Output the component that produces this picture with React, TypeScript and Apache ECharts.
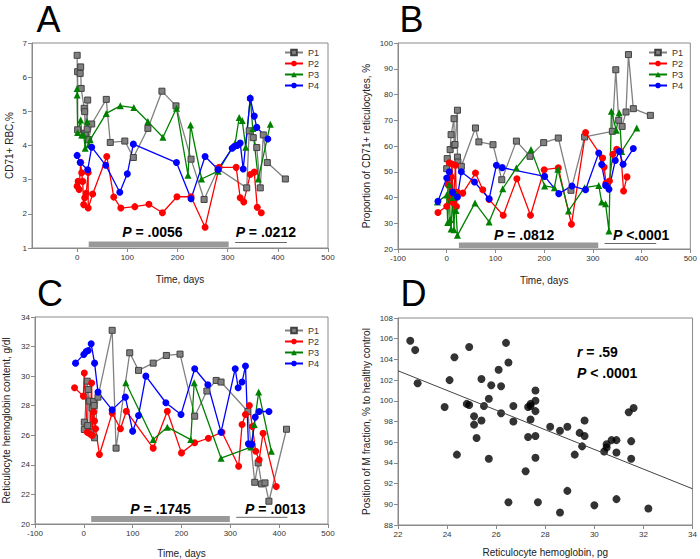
import React, { useEffect, useRef } from "react";
import * as echarts from "echarts";

const FONT = "'Liberation Sans', Arial, sans-serif";

// tick labels
const timeTicksA = [0, 100, 200, 300, 400, 500];
const patients = ["P1", "P2", "P3", "P4"];

// Panel A: CD71+ RBC, %
const aP1 = [[0,6.64],[1,4.46],[1,6.16],[6,6.11],[7,6.30],[8,5.67],[14,5.09],[15,4.99],[16,4.36],[21,5.33],[20,4.48],[23,4.17],[29,4.63],[58,5.35],[66,4.09],[95,4.13],[112,3.65],[141,4.5],[169,5.59],[197,5.16],[227,3.6],[253,2.42],[281,3.32],[338,2.76],[343,4.43],[351,4.23],[358,3.94],[365,2.76],[371,4.31],[379,3.5],[415,3.02]];
const aP2 = [[0,2.81],[2,2.95],[4,2.71],[7,3.51],[9,3.2],[11,2.95],[13,2.27],[15,2.47],[18,2.6],[22,3.21],[22,2.17],[31,2.58],[59,3.68],[73,2.49],[87,2.17],[115,2.21],[143,2.28],[170,2.03],[199,2.5],[227,2.5],[255,1.61],[283,3.36],[317,3.36],[325,2.47],[332,2.35],[345,3.15],[353,3.22],[359,2.19],[367,2.03]];
const aP3 = [[0,5.67],[0,5.48],[1,4.38],[7,4.75],[9,4.31],[13,4.31],[16,3.92],[20,4.7],[23,4.02],[26,4.17],[58,4.94],[86,5.16],[113,5.11],[141,4.7],[171,4.24],[198,5.09],[221,3.13],[226,4.6],[248,3.02],[281,3.25],[315,4.07],[323,4.82],[329,4.73],[336,3.95],[345,5.41],[350,4.5],[361,3.02],[385,4.62]];
const aP4 = [[0,3.71],[6,3.5],[21,3.29],[29,3.95],[57,3.42],[85,2.63],[100,3.17],[112,4.04],[198,3.5],[227,2.44],[255,3.68],[281,3.3],[309,3.92],[313,3.97],[319,4.0],[325,4.07],[331,3.31],[345,5.38],[353,4.86],[358,4.53],[380,4.19]];

// Panel B: proportion of CD71+ reticulocytes, %
const bP1 = [[0,51.2],[1,55.1],[4,45.4],[7,58.6],[9,64.4],[15,70.6],[15,60.3],[17,60.6],[22,73.9],[22,55.7],[23,53.8],[30,52.1],[59,67],[66,61.6],[95,60.5],[113,46.9],[143,61.9],[171,56],[199,61.3],[229,63.1],[255,42.8],[283,63.5],[340,65.7],[347,89.6],[353,70],[360,67.6],[368,73.2],[373,95.5],[383,74.5],[418,71.9]];
const bP2 = [[-18,34.2],[0,36.6],[3,45],[5,53.5],[7,40],[9,48],[11,53],[13,38],[15,42],[18,52.5],[20,36.5],[22,42],[33,41.7],[59,49.5],[74,43],[87,39.2],[116,33.1],[144,47.3],[172,33.1],[200,50.8],[229,51.5],[256,29.6],[285,65.2],[320,55.3],[323,51.8],[327,45.6],[334,46.4],[341,56.8],[349,58.7],[357,57.9],[363,42.5],[370,48]];
const bP3 = [[-19,38.3],[0,41],[2,30.3],[5,45],[7,31.5],[9,27.8],[12,40],[15,27.5],[17,42],[19,35],[22,25.3],[58,37.9],[87,30.5],[115,43.4],[143,51.5],[173,58.6],[201,44.5],[221,43.8],[228,51],[250,34.8],[283,43.8],[312,44.7],[318,38.3],[326,37.6],[333,27],[338,73.5],[348,66.1],[354,72.9],[359,57.9],[390,67]];
const bP4 = [[-18,38.5],[0,47.6],[5,50],[12,42],[22,40.2],[30,50],[57,46],[87,39.5],[102,52.5],[114,51.6],[201,48.2],[230,41.5],[257,44.5],[285,43],[312,57.3],[318,52.8],[326,44.7],[333,43.2],[346,54.4],[354,57.9],[362,52.9],[383,59]];

// Panel C: reticulocyte hemoglobin content, g/dl
const cP1 = [[1,26.89],[1,26.39],[7,29.66],[8,26.66],[9,29.1],[12,28.31],[14,26.21],[17,27.84],[20,28.29],[21,28.02],[22,25.83],[29,28.58],[58,33.1],[66,25.13],[94,31.58],[112,30.39],[142,30.88],[169,31.4],[197,31.49],[227,27.29],[252,28.99],[271,29.71],[281,29.6],[336,27.61],[342,25.35],[350,22.82],[357,24.13],[364,22.71],[371,22.78],[379,21.54],[415,26.41]];
const cP2 = [[-19,29.21],[-1,28.65],[1,30.21],[7,26.21],[12,26.1],[16,29.53],[17,25.98],[20,27.57],[22,26.96],[24,26.44],[32,24.7],[58,27.5],[75,26.44],[87,27.63],[142,25.13],[171,27.63],[200,24.81],[227,25.49],[255,25.8],[283,26.21],[317,23.91],[324,26.73],[331,27.41],[339,28.02],[345,26.59],[352,24.92],[359,24.34],[367,26.14],[394,22.53]];
const cP3 = [[86,29.55],[142,25.71],[171,26.55],[219,25.71],[226,29.55],[281,24.45],[342,25.2],[349,26.73],[358,28.92],[384,24.92]];
const cP4 = [[-17,30.88],[0,31.47],[5,31.67],[9,31.74],[15,32.19],[22,30.88],[29,28.92],[58,27.72],[85,28.58],[100,26.28],[112,27.34],[127,30.0],[168,28.2],[199,27.41],[227,30.5],[254,29.42],[281,26.21],[310,30.5],[316,29.21],[324,29.6],[331,30.68],[337,25.42],[344,25.4],[351,27.23],[359,27.61],[379,27.61]];

// Panel D: scatter + regression
const dPoints = [[22.5,105.8],[22.7,104.9],[22.8,101.7],[23.9,99.4],[24.1,102.0],[24.3,104.2],[24.4,94.8],[24.8,99.7],[24.9,99.6],[24.9,105.2],[25.1,98.5],[25.1,97.7],[25.2,96.4],[25.4,102.1],[25.4,98.1],[25.5,99.5],[25.7,100.2],[25.7,94.4],[25.8,101.5],[26.1,103.0],[26.2,101.4],[26.2,98.8],[26.4,105.6],[26.5,103.7],[26.5,90.2],[26.7,99.5],[26.7,98.0],[27.2,93.2],[27.3,99.4],[27.3,96.5],[27.4,99.5],[27.4,99.7],[27.4,98.2],[27.6,101.0],[27.6,100.0],[27.6,99.0],[27.6,96.6],[27.6,94.5],[27.7,90.2],[28.2,97.5],[28.6,97.1],[28.6,89.2],[28.9,97.5],[28.9,91.3],[29.2,94.8],[29.4,96.9],[29.5,95.6],[29.6,98.1],[29.6,96.6],[30.0,89.9],[30.4,95.1],[30.5,95.5],[30.5,95.8],[30.7,96.2],[30.9,96.2],[30.9,95.0],[30.9,90.5],[31.5,96.1],[31.5,94.4],[31.4,98.9],[31.6,99.3],[32.2,89.6]];
const dFit = [[22, 102.9],[34, 91.5]];

// annotations: [panel, bar start, bar end, underline start, underline end]
const periodBars = [[0, 23, 302, 315, 418],[1, 25, 311, 324, 430],[2, 15, 299, 312, 417]];
const pLabels = [
  [0, 150, "P = .0056"], [0, 376, "P = .0212"],
  [1, 159, "P = .0812"], [1, 399, "P <.0001"],
  [2, 157, "P = .1745"], [2, 392, "P = .0013"],
];

const styles: any = {
  P1: { symbol: "rect", size: 6, color: "#808080", border: "#404040" },
  P2: { symbol: "circle", size: 7, color: "#ff0000", border: "#ff0000" },
  P3: { symbol: "triangle", size: 7, color: "#008000", border: "#008000" },
  P4: { symbol: "circle", size: 7, color: "#0000ff", border: "#0000ff" },
};

function lineSeries(name: string, data: number[][], idx: number) {
  const s = styles[name];
  return {
    type: "line",
    name,
    data,
    xAxisIndex: idx,
    yAxisIndex: idx,
    symbol: s.symbol,
    symbolSize: s.size,
    showAllSymbol: true,
    lineStyle: { color: s.color, width: 1.3 },
    itemStyle: { color: s.color, borderColor: s.border, borderWidth: name === "P1" ? 1 : 0 },
    emphasis: { disabled: true },
  };
}

const axisCommon = {
  axisLine: { show: true, onZero: false, lineStyle: { color: "#8a8a8a", width: 1 } },
  axisTick: { show: true, length: 4, lineStyle: { color: "#8a8a8a" } },
  axisLabel: { fontSize: 8, color: "#333", margin: 5, fontFamily: FONT },
  splitLine: { show: false },
  nameTextStyle: { fontSize: 10, color: "#222", fontFamily: FONT },
  nameLocation: "middle",
};

export default function App() {
  const ref = useRef<HTMLDivElement>(null);
  useEffect(() => {
    if (!ref.current) return;
    const chart = echarts.init(ref.current, undefined, { renderer: "svg" });
    const legendBase = {
      orient: "vertical",
      itemWidth: 18,
      itemHeight: 7,
      itemGap: 2,
      padding: 0,
      data: patients,
      textStyle: { fontSize: 9, color: "#333", fontFamily: FONT },
      selectedMode: false,
    };
    const option: any = {
      animation: false,
      backgroundColor: "#fff",
      textStyle: { fontFamily: FONT },
      grid: [
        { left: 32, top: 43, width: 296, height: 205, show: true, borderColor: "#8a8a8a", borderWidth: 1 },
        { left: 398, top: 43, width: 295, height: 206, show: true, borderColor: "#8a8a8a", borderWidth: 1 },
        { left: 33, top: 317, width: 295, height: 207, show: true, borderColor: "#8a8a8a", borderWidth: 1 },
        { left: 398, top: 318, width: 295, height: 207, show: true, borderColor: "#8a8a8a", borderWidth: 1 },
      ],
      legend: [
        { ...legendBase, left: 284, top: 48 },
        { ...legendBase, left: 648, top: 48 },
        { ...legendBase, left: 284, top: 326 },
      ],
      xAxis: [
        { ...axisCommon, gridIndex: 0, type: "value", min: -90, max: 500,
          axisLabel: { ...axisCommon.axisLabel, customValues: timeTicksA },
          axisTick: { ...axisCommon.axisTick, customValues: timeTicksA },
          name: "Time, days", nameGap: 26 },
        { ...axisCommon, gridIndex: 1, type: "value", min: -100, max: 500, interval: 100, name: "Time, days", nameGap: 26 },
        { ...axisCommon, gridIndex: 2, type: "value", min: -100, max: 500, interval: 100, name: "Time, days", nameGap: 24 },
        { ...axisCommon, gridIndex: 3, type: "value", min: 22, max: 34, interval: 2, name: "Reticulocyte hemoglobin, pg", nameGap: 22 },
      ],
      yAxis: [
        { ...axisCommon, gridIndex: 0, type: "value", min: 1, max: 7, interval: 1, name: "CD71+ RBC,%", nameGap: 18 },
        { ...axisCommon, gridIndex: 1, type: "value", min: 20, max: 100, interval: 10, name: "Proportion of CD71+ reticulocytes, %", nameGap: 27 },
        { ...axisCommon, gridIndex: 2, type: "value", min: 20, max: 34, interval: 2, name: "Reticulocyte hemoglobin content, g/dl", nameGap: 24 },
        { ...axisCommon, gridIndex: 3, type: "value", min: 88, max: 108, interval: 2, name: "Position of M fraction, % to healthy control", nameGap: 27 },
      ],
      series: [
        lineSeries("P1", aP1, 0), lineSeries("P2", aP2, 0), lineSeries("P3", aP3, 0), lineSeries("P4", aP4, 0),
        lineSeries("P1", bP1, 1), lineSeries("P2", bP2, 1), lineSeries("P3", bP3, 1), lineSeries("P4", bP4, 1),
        lineSeries("P1", cP1, 2), lineSeries("P2", cP2, 2), lineSeries("P3", cP3, 2), lineSeries("P4", cP4, 2),
        {
          type: "line", name: "fit", data: dFit, xAxisIndex: 3, yAxisIndex: 3,
          symbol: "none", lineStyle: { color: "#444", width: 1 }, emphasis: { disabled: true },
        },
        {
          type: "scatter", name: "D", data: dPoints, xAxisIndex: 3, yAxisIndex: 3,
          symbol: "circle", symbolSize: 8, itemStyle: { color: "#000" }, emphasis: { disabled: true },
        },
      ],
    };
    chart.setOption(option);

    const yMins = [1, 20, 20];
    const barOff = [[6.6, 5.6, 5.5, 16], [6.6, 5.6, 5.5, 13.7], [8, 6, 6.7, 15]];
    const graphics: any[] = [];
    const letter = (t: string, x: number, y: number) => ({
      type: "text", x, y, silent: true,
      style: { text: t, fontSize: 36, fontFamily: FONT, fill: "#000", align: "center", verticalAlign: "middle" },
    });
    graphics.push(letter("A", 48.5, 19), letter("B", 411.5, 19), letter("C", 50, 293.5), letter("D", 413.5, 293));
    periodBars.forEach(([p, b1, b2, u1, u2]) => {
      const ax = { xAxisIndex: p, yAxisIndex: p };
      const [x1, yb] = chart.convertToPixel(ax, [b1, yMins[p]]) as number[];
      const [x2] = chart.convertToPixel(ax, [b2, yMins[p]]) as number[];
      const [x3] = chart.convertToPixel(ax, [u1, yMins[p]]) as number[];
      const [x4] = chart.convertToPixel(ax, [u2, yMins[p]]) as number[];
      const o = barOff[p];
      graphics.push({ type: "rect", silent: true, shape: { x: x1, y: yb - o[0], width: x2 - x1, height: o[1] }, style: { fill: "#999" } });
      graphics.push({ type: "line", silent: true, shape: { x1: x3, y1: yb - o[2], x2: x4, y2: yb - o[2] }, style: { stroke: "#666", lineWidth: 1 } });
    });
    pLabels.forEach(([p, xv, txt]) => {
      const pi = p as number;
      const [x, yb] = chart.convertToPixel({ xAxisIndex: pi, yAxisIndex: pi }, [xv as number, yMins[pi]]) as number[];
      const s = String(txt);
      graphics.push({
        type: "text", x, y: yb - barOff[pi][3], silent: true,
        style: {
          text: "{i|P}{b|" + s.slice(1) + "}",
          align: "center", verticalAlign: "middle",
          rich: {
            i: { fontSize: 14, fontWeight: "bold", fontStyle: "italic", fontFamily: FONT, fill: "#000" },
            b: { fontSize: 14, fontWeight: "bold", fontFamily: FONT, fill: "#000" },
          },
        },
      });
    });
    const dText = (first: string, rest: string, y: number) => ({
      type: "text", x: 577, y, silent: true,
      style: {
        text: "{i|" + first + "}{b|" + rest + "}", align: "left", verticalAlign: "middle",
        rich: {
          i: { fontSize: 14, fontWeight: "bold", fontStyle: "italic", fontFamily: FONT, fill: "#000" },
          b: { fontSize: 14, fontWeight: "bold", fontFamily: FONT, fill: "#000" },
        },
      },
    });
    graphics.push(dText("r", " = .59", 352), dText("P", " < .0001", 373));
    chart.setOption({ graphic: graphics });

    return () => chart.dispose();
  }, []);
  return (
    <div
      ref={ref}
      style={{ position: "fixed", left: 0, top: 0, width: 700, height: 559, background: "#fff" }}
    />
  );
}
